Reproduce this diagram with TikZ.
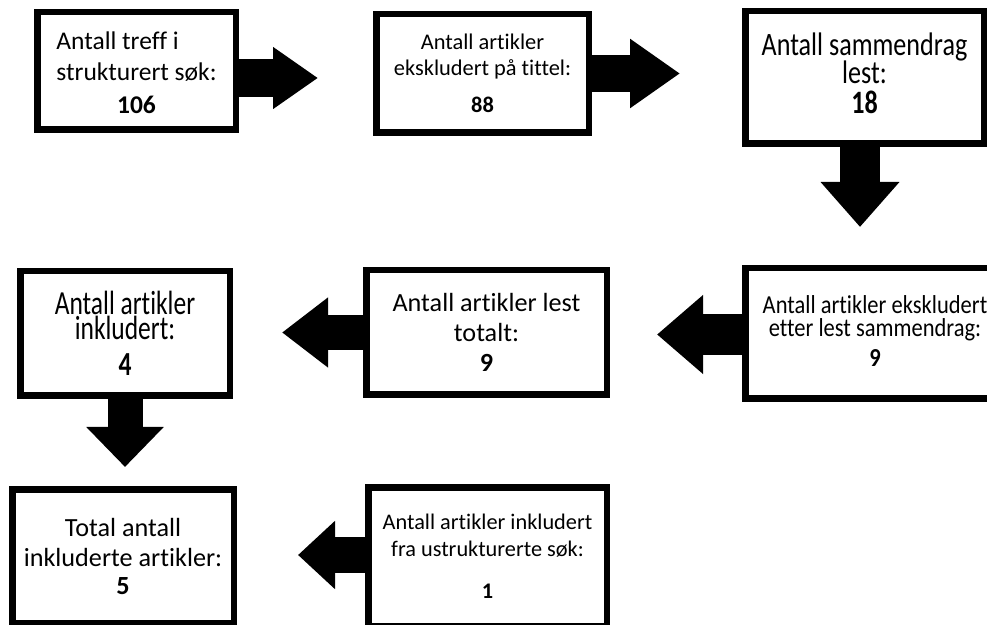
\documentclass[tikz,border=0pt]{standalone}
\usepackage{fontspec}
\setmainfont{Carlito}[Ligatures={CommonOff}]
\usepackage{graphicx}
\usetikzlibrary{arrows.meta}

\tikzset{
  boks/.style={draw, line width=6.5pt, inner sep=0pt, align=flush center},
  fatarrow/.style={line width=38pt},
}
\newcommand{\strekk}[3]{\scalebox{1}[#1]{\parbox{#2}{\centering\lineskiplimit=-30pt #3}}}

\begin{document}
\begin{tikzpicture}[x=1pt,y=1pt]
\path[use as bounding box, clip] (0,0) rectangle (987,624);

% boxes
\node[boks, minimum width=198.5pt, minimum height=117.5pt, text width=190pt, font=\fontsize{25.5}{31}\selectfont] (treff) at (136.5,553)
  {\begin{tabular}[b]{@{}l@{}}Antall treff i\\strukturert søk:\end{tabular}\\[2pt]\textbf{106}};
\node[boks, minimum width=212.5pt, minimum height=118.5pt, text width=205pt, font=\fontsize{22.4}{26}\selectfont] (tittel) at (482.5,550.5)
  {Antall artikler\\ekskludert på tittel:\\[11pt]\textbf{88}};
\node[boks, minimum width=238.5pt, minimum height=132.5pt, font=\fontsize{26.1}{22.4}\selectfont] (sammendrag) at (864.5,546.5)
  {\strekk{1.25}{230pt}{Antall sammendrag\\lest:\\[2pt]\textbf{18}\par\vspace*{7pt}}};
\node[boks, minimum width=259.5pt, minimum height=130.5pt, font=\fontsize{22.5}{20}\selectfont] (ekssamm) at (875,290.5)
  {\strekk{1.15}{250pt}{Antall artikler ekskludert\\etter lest sammendrag:\\[6pt]\textbf{9}\par\vspace*{5pt}}};
\node[boks, minimum width=240.5pt, minimum height=124.5pt, text width=232pt, font=\fontsize{26.2}{30}\selectfont] (lest) at (486.5,291.5)
  {Antall artikler lest\\totalt:\\\textbf{9}\par\vspace*{-13pt}};
\node[boks, minimum width=209.5pt, minimum height=124.5pt, font=\fontsize{25.5}{18.6}\selectfont] (inkl) at (125,290.5)
  {\strekk{1.32}{200pt}{Antall artikler\\inkludert:\\[9pt]\textbf{4}}};
\node[boks, minimum width=221.5pt, minimum height=133.5pt, text width=214pt, font=\fontsize{26.2}{30}\selectfont] (total) at (123,68)
  {Total antall\\inkluderte artikler:\\[-2pt]\textbf{5}\par\vspace*{6pt}};
\node[boks, minimum width=238.5pt, minimum height=138.5pt, text width=230pt, font=\fontsize{22.3}{27}\selectfont] (ustrukt) at (487.5,67.5)
  {Antall artikler inkludert\\fra ustrukturerte søk:\\[15pt]\textbf{1}\par\vspace*{10pt}};

% arrows
\coordinate (p1) at ([yshift=-7pt]treff.east);
\coordinate (p3) at ([xshift=-4.5pt]sammendrag.south);
\coordinate (p4) at ([yshift=-1pt]ekssamm.west);
\coordinate (p7) at ([yshift=1.5pt]ustrukt.west);
\draw[fatarrow, line width=38pt, -{Triangle[length=45pt,width=59pt]}, shorten >=55pt] (p1) -- (p1 -| tittel.west);
\draw[fatarrow, line width=37pt, -{Triangle[length=50pt,width=66pt]}, shorten >=62pt] (tittel.east) -- (tittel.east -| sammendrag.west);
\draw[fatarrow, line width=40pt, -{Triangle[length=45pt,width=76pt]}, shorten >=38pt] (p3) -- (p3 |- ekssamm.north);
\draw[fatarrow, line width=41pt, -{Triangle[length=46pt,width=76pt]}, shorten >=47pt] (p4) -- (p4 -| lest.east);
\draw[fatarrow, line width=35pt, -{Triangle[length=46pt,width=67pt]}, shorten >=49pt] (lest.west) -- (lest.west -| inkl.east);
\draw[fatarrow, line width=35pt, -{Triangle[length=40pt,width=75pt]}, shorten >=19pt] (inkl.south) -- (inkl.south |- total.north);
\draw[fatarrow, line width=36pt, -{Triangle[length=37pt,width=66pt]}, shorten >=61pt] (p7) -- (p7 -| total.east);
\end{tikzpicture}
\end{document}
